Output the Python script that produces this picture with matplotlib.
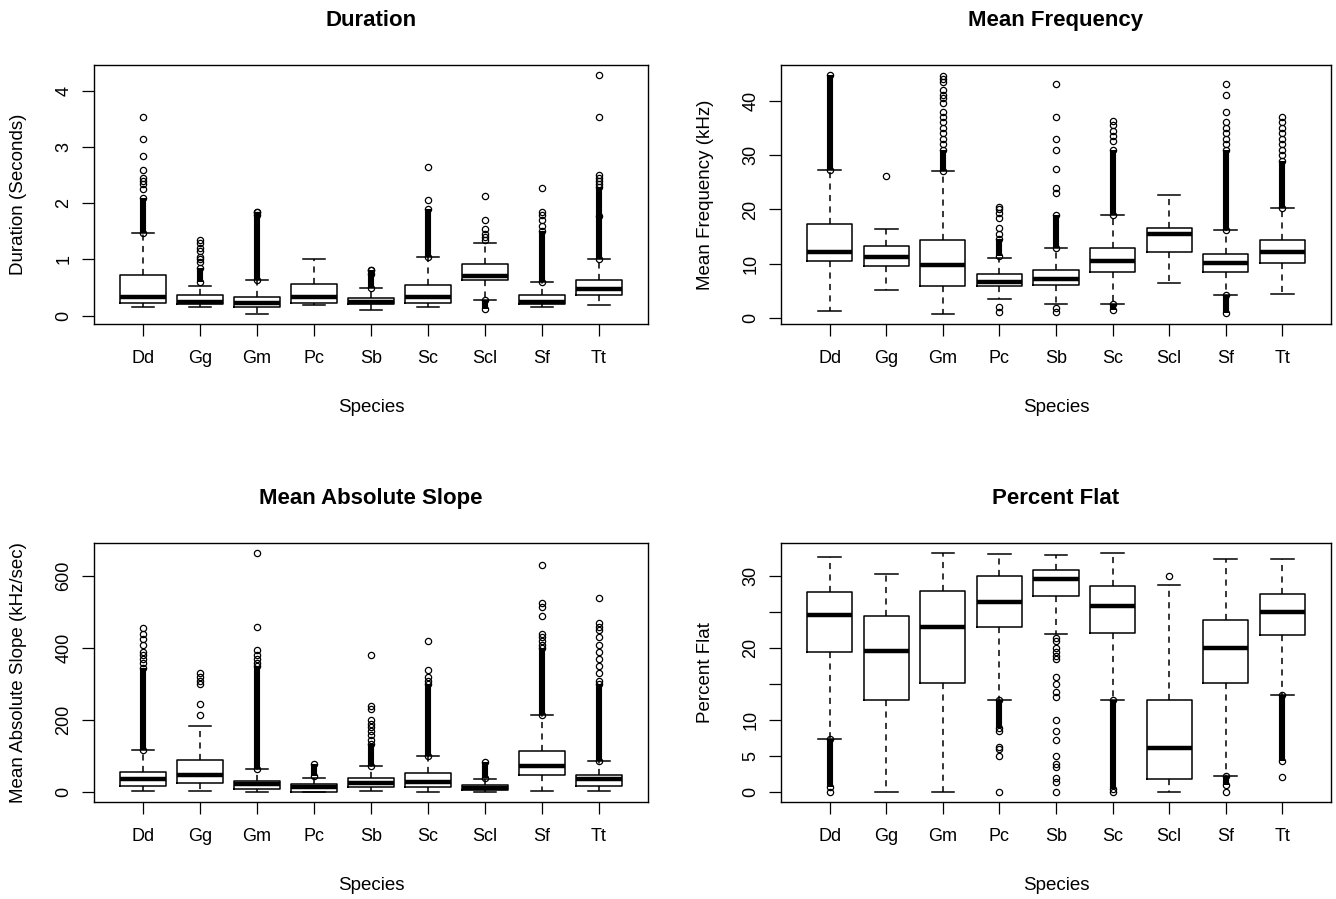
import matplotlib.pyplot as plt

plt.rcParams['font.family'] = ['Liberation Sans', 'DejaVu Sans']

species = ['Dd', 'Gg', 'Gm', 'Pc', 'Sb', 'Sc', 'Scl', 'Sf', 'Tt']

# Duration (Seconds)
dur_whislo = [0.15, 0.15, 0.02, 0.18, 0.09, 0.15, 0.28, 0.15, 0.18]
dur_q1 = [0.225, 0.20, 0.15, 0.225, 0.20, 0.225, 0.64, 0.20, 0.36]
dur_med = [0.33, 0.25, 0.23, 0.33, 0.24, 0.33, 0.70, 0.25, 0.47]
dur_q3 = [0.73, 0.36, 0.33, 0.57, 0.31, 0.55, 0.92, 0.36, 0.63]
dur_whishi = [1.47, 0.52, 0.63, 1.00, 0.49, 1.05, 1.29, 0.60, 1.00]
dur_dense = [[(1.47, 2.1)], [(0.6, 0.85)], [(0.63, 1.85)], [], [(0.5, 0.82)],
             [(1.05, 1.9)], [(0.12, 0.28)], [(0.6, 1.5)], [(1.0, 2.3)]]
dur_fliers = [[2.25, 2.35, 2.4, 2.45, 2.6, 2.85, 3.15, 3.55],
              [0.95, 1.0, 1.05, 1.15, 1.2, 1.3, 1.35],
              [1.8, 1.85], [], [0.75, 0.82], [2.07, 2.65],
              [1.35, 1.4, 1.45, 1.55, 1.7, 2.13],
              [1.6, 1.7, 1.8, 1.85, 2.28],
              [1.78, 2.35, 2.4, 2.45, 2.5, 3.55, 4.3]]

# Mean Frequency (kHz)
mf_whislo = [1.3, 5.1, 0.7, 3.5, 2.6, 2.6, 6.4, 4.2, 4.5]
mf_q1 = [10.5, 9.6, 5.9, 5.9, 6.1, 8.5, 12.1, 8.5, 10.2]
mf_med = [12.1, 11.3, 9.7, 6.7, 7.3, 10.5, 15.5, 10.2, 12.1]
mf_q3 = [17.3, 13.2, 14.3, 8.1, 8.9, 12.9, 16.5, 11.9, 14.3]
mf_whishi = [27.3, 16.4, 27.0, 11.0, 12.9, 18.9, 22.7, 16.2, 20.2]
mf_dense = [[(27.3, 44.8)], [], [(27.0, 31.0)], [(11.5, 14.5)], [(13.0, 19.0)],
            [(19.0, 31.0), (1.5, 2.6)], [], [(16.2, 31.0), (0.9, 4.2)], [(20.2, 29.0)]]
mf_fliers = [[], [26.2],
             [32, 33, 34, 35, 36, 37, 38, 39.5, 40.5, 41, 42, 43.5, 44, 44.5],
             [15.5, 16.5, 18.5, 19.3, 20, 20.5, 2.0, 1.2],
             [23, 24, 27.5, 31, 33, 37, 43, 1.2, 1.8],
             [32.5, 33.5, 34.5, 35.5, 36.3], [],
             [32, 33, 34, 35, 36, 38, 41, 43],
             [30, 31, 32, 33, 34, 35, 36, 37]]

# Mean Absolute Slope (kHz/sec)
ms_whislo = [4, 4, 0, 0, 4, 0, 2, 4, 4]
ms_q1 = [17, 27, 9, 2, 15, 15, 6, 48, 18]
ms_med = [36, 49, 23, 14, 26, 29, 13, 73, 37]
ms_q3 = [57, 89, 32, 23, 40, 53, 20, 115, 48]
ms_whishi = [118, 183, 64, 40, 73, 102, 37, 216, 86]
ms_dense = [[(118, 345)], [], [(64, 350)], [(45, 78)], [(73, 135)],
            [(102, 300)], [(40, 85)], [(216, 400)], [(86, 300)]]
ms_fliers = [[360, 370, 380, 390, 410, 425, 440, 455],
             [215, 245, 300, 310, 320, 330],
             [360, 370, 380, 395, 460, 665], [],
             [145, 160, 170, 180, 190, 200, 230, 240, 380],
             [310, 320, 340, 420], [],
             [410, 420, 430, 440, 490, 515, 525, 630],
             [310, 330, 350, 370, 390, 410, 430, 450, 460, 470, 540]]

# Percent Flat
pf_whislo = [7.4, 0, 0, 12.9, 22.0, 12.8, 0, 2.3, 13.5]
pf_q1 = [19.5, 12.9, 15.2, 23.0, 27.3, 22.2, 1.8, 15.2, 21.8]
pf_med = [24.7, 19.7, 23.0, 26.5, 29.6, 25.9, 6.2, 20.0, 25.1]
pf_q3 = [27.8, 24.5, 28.0, 30.0, 30.9, 28.6, 12.9, 23.9, 27.6]
pf_whishi = [32.7, 30.3, 33.3, 33.1, 32.9, 33.3, 28.8, 32.4, 32.4]
pf_dense = [[(0.8, 7.4)], [], [], [(9.0, 12.8)], [], [(0.5, 12.8)], [],
            [(1.0, 2.3)], [(4.3, 13.5)]]
pf_fliers = [[0], [], [], [8.5, 6.3, 6, 5, 0],
             [21.5, 21, 20, 19.5, 19, 18.5, 16, 15, 14, 13.3, 10, 8.5, 7.3, 5, 4, 3.5, 2, 1.5, 0],
             [0], [30], [0], [2.1]]

W, H = 1336, 899
fig = plt.figure(figsize=(W / 100, H / 100), dpi=100)


def panel(rect, title, ylabel, whislo, q1, med, q3, whishi, fliers, dense, yticks, ylabels):
    l, t, r, b = rect
    ax = fig.add_axes([l / W, 1 - b / H, (r - l) / W, (b - t) / H])
    stats = []
    for i, name in enumerate(species):
        stats.append(dict(label=name, whislo=whislo[i], q1=q1[i], med=med[i],
                          q3=q3[i], whishi=whishi[i], fliers=fliers[i]))
    pos = list(range(1, len(species) + 1))
    ax.bxp(stats, positions=pos, widths=0.8, capwidths=0.4,
           boxprops=dict(color='black', lw=1.1),
           whiskerprops=dict(color='black', lw=1.1, linestyle=(0, (4, 3.5))),
           capprops=dict(color='black', lw=1.1),
           medianprops=dict(color='black', lw=3.2, solid_capstyle='butt'),
           flierprops=dict(marker='o', markersize=4.5, markerfacecolor='none',
                           markeredgecolor='black', markeredgewidth=0.9, linestyle='none'))
    # runs of overlapping outliers drawn as solid bands
    for i, bands in enumerate(dense):
        for lo, hi in bands:
            ax.vlines(pos[i], lo, hi, color='black', lw=4.4)
            ax.plot([pos[i], pos[i]], [lo, hi], 'o', ms=4.5, mfc='none', mec='black', mew=0.9)

    vals = list(whislo) + list(whishi)
    for f in fliers:
        vals += list(f)
    for bands in dense:
        for lo, hi in bands:
            vals += [lo, hi]
    lo, hi = min(vals), max(vals)
    pad = 0.04 * (hi - lo)
    ax.set_ylim(lo - pad, hi + pad)
    ax.set_xlim(0.14, 9.86)

    ax.set_xticks(pos)
    ax.set_xticklabels(species, fontsize=13)
    ax.set_yticks(yticks)
    ax.set_yticklabels(ylabels, fontsize=13, rotation=90, va='center')
    ax.tick_params(axis='both', length=8.5, width=0.9, direction='out', pad=7)
    ax.tick_params(axis='x', pad=10)
    for s in ax.spines.values():
        s.set_linewidth(1.0)
        s.set_color('black')

    ax.set_title(title, fontsize=16, fontweight='bold', pad=28)
    ax.set_xlabel('Species', fontsize=13.5)
    ax.set_ylabel(ylabel, fontsize=13.5)
    ax.xaxis.set_label_coords(0.5, -75 / (b - t))
    ax.yaxis.set_label_coords(-67 / (r - l), 0.5)
    return ax


panel((94, 65, 648, 324), 'Duration', 'Duration (Seconds)',
      dur_whislo, dur_q1, dur_med, dur_q3, dur_whishi, dur_fliers, dur_dense,
      [0, 1, 2, 3, 4], ['0', '1', '2', '3', '4'])
panel((781, 65, 1331, 324), 'Mean Frequency', 'Mean Frequency (kHz)',
      mf_whislo, mf_q1, mf_med, mf_q3, mf_whishi, mf_fliers, mf_dense,
      [0, 10, 20, 30, 40], ['0', '10', '20', '30', '40'])
panel((94, 543, 648, 802), 'Mean Absolute Slope', 'Mean Absolute Slope (kHz/sec)',
      ms_whislo, ms_q1, ms_med, ms_q3, ms_whishi, ms_fliers, ms_dense,
      [0, 200, 400, 600], ['0', '200', '400', '600'])
panel((781, 543, 1331, 802), 'Percent Flat', 'Percent Flat',
      pf_whislo, pf_q1, pf_med, pf_q3, pf_whishi, pf_fliers, pf_dense,
      [0, 5, 10, 15, 20, 25, 30], ['0', '5', '10', '', '20', '', '30'])

fig.savefig('out.png', dpi=100)
